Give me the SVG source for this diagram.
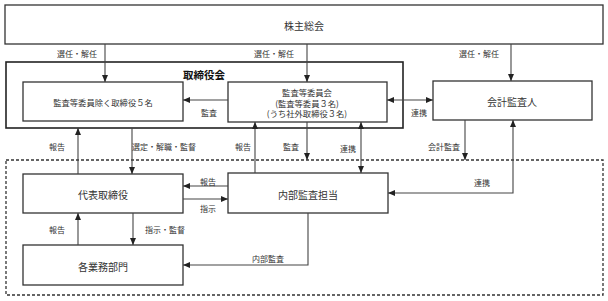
<svg xmlns="http://www.w3.org/2000/svg" width="608" height="301" viewBox="0 0 608 301">
<defs>
<marker id="ah" markerUnits="userSpaceOnUse" markerWidth="7" markerHeight="6" refX="7" refY="3" orient="auto-start-reverse">
<path d="M0,0 L7,3 L0,6 Z" fill="#222"/>
</marker>
<style>
.box{fill:#fff;stroke:#333;stroke-width:1.3}
.grp{fill:none;stroke:#222;stroke-width:1.6}
.dash{fill:none;stroke:#333;stroke-width:1.3;stroke-dasharray:3 2}
.c{fill:none;stroke:#444;stroke-width:1.1}
text{font-family:"Noto Sans CJK JP","Noto Sans",sans-serif;fill:#333;text-anchor:middle;dominant-baseline:central}
.t{font-size:10px}
.s{font-size:8.3px}
.l{font-size:8px}
.b{font-size:10.5px;font-weight:bold;fill:#111}
</style>
</defs>
<rect width="608" height="301" fill="#fff"/>
<g id="board-group">
<rect class="grp" x="6" y="62" width="397" height="66"/>
<text class="b" x="204" y="74">取締役会</text>
</g>
<rect id="internal-group" class="dash" x="6" y="160" width="597" height="135"/>
<g id="shareholders">
<rect class="box" x="5" y="5" width="598" height="39"/>
<text class="t" x="304" y="25">株主総会</text>
</g>
<g id="directors">
<rect class="box" x="23" y="82" width="160" height="39"/>
<text class="s" x="103" y="102">監査等委員除く取締役５名</text>
</g>
<g id="audit-committee">
<rect class="box" x="228" y="82" width="159" height="40"/>
<text class="s" x="307" y="92">監査等委員会</text>
<text class="s" x="307" y="102.5">(監査等委員３名)</text>
<text class="s" x="307" y="113">(うち社外取締役３名)</text>
</g>
<g id="accounting-auditor">
<rect class="box" x="433" y="81" width="159" height="39"/>
<text class="t" x="512" y="101">会計監査人</text>
</g>
<g id="representative">
<rect class="box" x="23" y="174" width="160" height="39"/>
<text class="t" x="103" y="194">代表取締役</text>
</g>
<g id="internal-audit">
<rect class="box" x="228" y="173" width="160" height="40"/>
<text class="t" x="308" y="194">内部監査担当</text>
</g>
<g id="departments">
<rect class="box" x="23" y="245" width="160" height="40"/>
<text class="t" x="103" y="266">各業務部門</text>
</g>
<g id="connectors">
<path class="c" d="M105,44 V82" marker-end="url(#ah)"/>
<path class="c" d="M307,44 V82" marker-end="url(#ah)"/>
<path class="c" d="M511,44 V81" marker-end="url(#ah)"/>
<path class="c" d="M228,100 H183" marker-end="url(#ah)"/>
<path class="c" d="M387,100 H433" marker-start="url(#ah)" marker-end="url(#ah)"/>
<path class="c" d="M78,174 V128" marker-end="url(#ah)"/>
<path class="c" d="M132,128 V174" marker-end="url(#ah)"/>
<path class="c" d="M255,173 V122" marker-end="url(#ah)"/>
<path class="c" d="M307,122 V160" marker-end="url(#ah)"/>
<path class="c" d="M361,122 V173" marker-start="url(#ah)" marker-end="url(#ah)"/>
<path class="c" d="M465,120 V160" marker-end="url(#ah)"/>
<path class="c" d="M513,120 V193 H388" marker-start="url(#ah)" marker-end="url(#ah)"/>
<path class="c" d="M228,186 H183" marker-end="url(#ah)"/>
<path class="c" d="M183,199 H228" marker-end="url(#ah)"/>
<path class="c" d="M78,245 V213" marker-end="url(#ah)"/>
<path class="c" d="M133,213 V245" marker-end="url(#ah)"/>
<path class="c" d="M308,213 V265 H183" marker-end="url(#ah)"/>
<g id="labels">
<text class="l" x="77" y="53">選任・解任</text>
<text class="l" x="274" y="53">選任・解任</text>
<text class="l" x="479" y="53">選任・解任</text>
<text class="l" x="209" y="112">監査</text>
<text class="l" x="419" y="112">連携</text>
<text class="l" x="57" y="146">報告</text>
<text class="l" x="164" y="146">選定・解職・監督</text>
<text class="l" x="243" y="146">報告</text>
<text class="l" x="291" y="146">監査</text>
<text class="l" x="348" y="148">連携</text>
<text class="l" x="444" y="146">会計監査</text>
<text class="l" x="482" y="182">連携</text>
<text class="l" x="208" y="181">報告</text>
<text class="l" x="208" y="208">指示</text>
<text class="l" x="57" y="229">報告</text>
<text class="l" x="165" y="229">指示・監督</text>
<text class="l" x="268" y="258">内部監査</text>
</g>
</g>
</svg>
